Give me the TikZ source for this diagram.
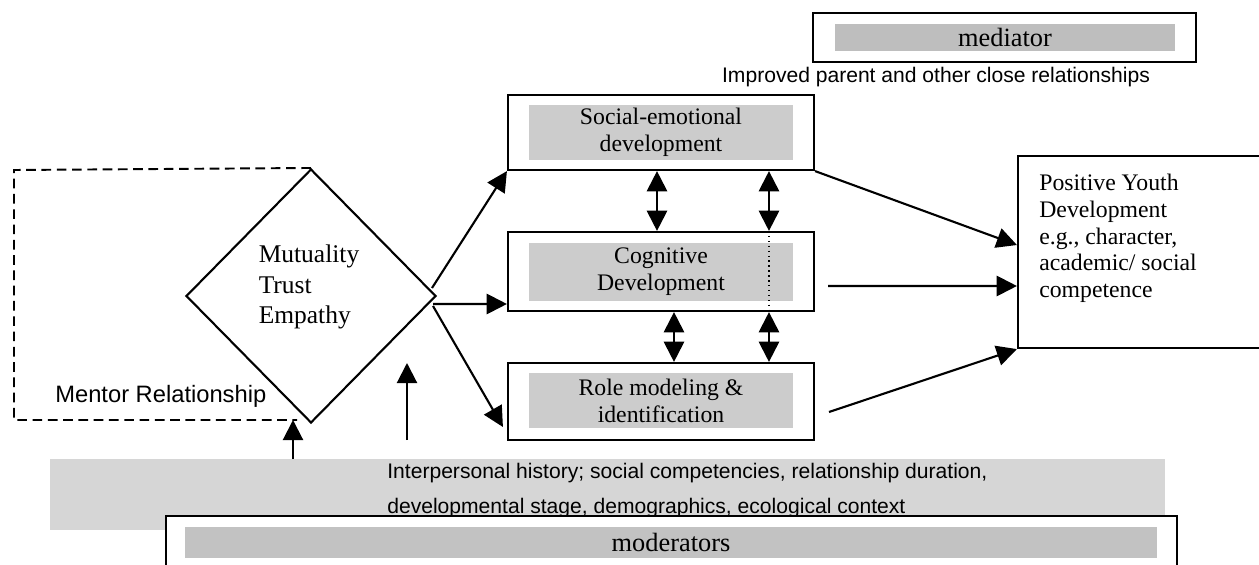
\documentclass[tikz,border=0pt]{standalone}
\usepackage{fontspec}
\setmainfont{Liberation Serif}
\setsansfont{Liberation Sans}
\usetikzlibrary{arrows.meta,shapes.geometric}
\definecolor{boxgray}{RGB}{204,204,204}
\definecolor{bandgray}{RGB}{214,214,214}
\definecolor{medgray}{RGB}{190,190,190}
\definecolor{modgray}{RGB}{194,194,194}
\tikzset{
  box/.style={draw, line width=1.25pt, fill=white, inner sep=0pt},
  graybox/.style={fill=boxgray, inner sep=0pt, align=center, font=\fontsize{13.5}{15.3}\selectfont},
  arr/.style={line width=1.2pt, -{Triangle[length=11.5pt,width=11.5pt]}},
  darr/.style={line width=1.2pt, {Triangle[length=11.5pt,width=11.5pt]}-{Triangle[length=11.5pt,width=11.5pt]}},
  sanslabel/.style={inner sep=0pt, font=\sffamily\fontsize{12}{14}\selectfont},
}
\begin{document}
\begin{tikzpicture}[x=0.02cm,y=-0.02cm]
\clip (0,0) rectangle (1259,565);
\fill[white] (0,0) rectangle (1259,565);

% mediator
\node[box, minimum width=7.66cm, minimum height=0.98cm] (medo) at (1004.5,37.5) {};
\node[graybox, fill=medgray, minimum width=6.8cm, minimum height=0.56cm, font=\fontsize{15}{17}\selectfont] (medi) at (1005,37.5) {mediator};
\node[sanslabel, anchor=base] (impr) at (936,82) {Improved parent and other close relationships};

% three development boxes
\node[box, minimum width=6.12cm, minimum height=1.5cm] (se) at (661,132.5) {};
\node[graybox, minimum width=5.28cm, minimum height=1.1cm] (sei) at (661,132.5) {Social-emotional\\development};
\node[box, minimum width=6.12cm, minimum height=1.58cm] (cog) at (661,271.5) {};
\node[graybox, minimum width=5.28cm, minimum height=1.16cm] (cogi) at (661,272) {Cognitive\\Development};
\node[box, minimum width=6.12cm, minimum height=1.54cm] (role) at (661,401.5) {};
\node[graybox, minimum width=5.28cm, minimum height=1.1cm] (rolei) at (661,400.5) {Role modeling \&\\identification};

% dotted line in cognitive box
\draw[dotted, line width=0.8pt] ([xshift=2.16cm]cog.north) -- ([xshift=2.16cm]cog.south);

% double arrows
\draw[darr] ([xshift=-0.08cm]se.south) -- ([xshift=-0.08cm]cog.north);
\draw[darr] ([xshift=2.16cm]se.south) -- ([xshift=2.16cm]cog.north);
\draw[darr] ([xshift=0.26cm]cog.south) -- ([xshift=0.26cm]role.north);
\draw[darr] ([xshift=2.16cm]cog.south) -- ([xshift=2.16cm]role.north);

% diamond and mentor relationship
\node[draw, diamond, line width=1.2pt, minimum width=5cm, minimum height=5.08cm, inner sep=0pt] (dia) at (311,296) {};
\node[align=left, inner sep=0pt, font=\fontsize{14.5}{17.3}\selectfont] (diat) at (309,287) {Mutuality\\Trust\\Empathy};
\draw[dashed, line width=1.1pt, dash pattern=on 5.5pt off 3.2pt] (dia.north) -- (14,170) -- (14,420) -- (297,420);
\node[sanslabel, anchor=base west, font=\sffamily\fontsize{13.5}{16}\selectfont] (mentor) at (55,402) {Mentor Relationship};

% arrows out of the diamond
\coordinate (d1) at (432,288);
\coordinate (d2) at (433,304);
\coordinate (d3) at (433,306);
\draw[arr] (d1) -- (se.south west);
\draw[arr] (d2) -- ([yshift=-0.65cm]cog.west);
\draw[arr] (d3) -- ([xshift=-0.08cm,yshift=-0.51cm]role.west);

% positive youth development
\node[box, minimum width=5.04cm, minimum height=3.84cm] (pyd) at (1144,252) {};
\node[align=left, anchor=north west, inner sep=0pt, font=\fontsize{13.5}{15.3}\selectfont] (pydt) at (1039,173.5) {Positive Youth\\Development\\e.g., character,\\academic/ social\\competence};
\draw[arr] (se.south east) -- ([yshift=0.14cm]pyd.west);
\draw[arr] ([xshift=0.26cm,yshift=-0.29cm]cog.east) -- ([yshift=-0.68cm]pyd.west);
\draw[arr] ([xshift=0.28cm,yshift=-0.21cm]role.east) -- (pyd.south west);

% moderators
\node[fill=bandgray, inner sep=0pt, minimum width=22.3cm, minimum height=1.42cm] (band) at (607.5,494.5) {};
\node[sanslabel, anchor=base west] (m1) at (387,478) {Interpersonal history; social competencies, relationship duration,};
\node[sanslabel, anchor=base west] (m2) at (387,513) {developmental stage, demographics, ecological context};
\node[box, minimum width=20.22cm, minimum height=1.18cm] (modo) at (671.5,545.5) {};
\node[graybox, fill=modgray, minimum width=19.44cm, minimum height=0.62cm, font=\fontsize{15}{17}\selectfont] (modi) at (671,542.5) {moderators};

% arrows up from moderators
\coordinate (u1) at (293,459);
\coordinate (u1e) at (293,420);
\draw[arr] (u1) -- (u1e);
\coordinate (u2) at (407,440);
\coordinate (u2e) at (407,363);
\draw[arr] (u2) -- (u2e);
\end{tikzpicture}
\end{document}
